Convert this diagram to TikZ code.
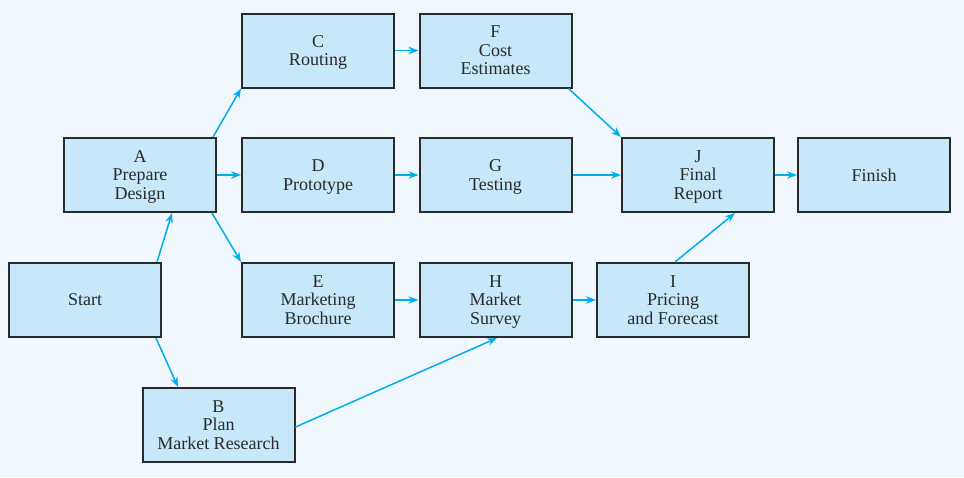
\documentclass[tikz,border=0pt]{standalone}
\usepackage{fontspec}
\setmainfont{Liberation Serif}
\usetikzlibrary{arrows.meta}
\definecolor{bgc}{HTML}{F0F7FD}
\definecolor{boxc}{HTML}{C6E8F9}
\definecolor{edgec}{HTML}{2A2A2A}
\definecolor{arrc}{HTML}{00AEEF}
\tikzset{
  task/.style={draw=edgec, line width=2pt, fill=boxc, rectangle, inner sep=0pt,
    minimum width=152pt, minimum height=74pt, align=center, text=edgec,
    text depth=0pt, font=\fontsize{18pt}{18.5pt}\selectfont},
  link/.style={draw=arrc, line width=1.5pt, -{Stealth[length=10pt,width=7.5pt]}}
}
\begin{document}
\begin{tikzpicture}[x=1pt,y=-1pt]
\fill[bgc] (0,0) rectangle (964,477);
\useasboundingbox (0,0) rectangle (964,477);
\node[task] (C) at (318,50.5) {C\\Routing};
\node[task] (F) at (495.5,50.5) {F\\Cost\\Estimates};
\node[task] (A) at (140,175) {A\\Prepare\\Design};
\node[task] (D) at (318,175) {D\\Prototype};
\node[task] (G) at (495.5,175) {G\\Testing};
\node[task] (J) at (698,175) {J\\Final\\Report};
\node[task] (Fin) at (874,175) {Finish};
\node[task] (S) at (85,300) {Start};
\node[task] (E) at (318,300) {E\\Marketing\\Brochure};
\node[task] (H) at (495.5,300) {H\\Market\\Survey};
\node[task] (I) at (673,300) {I\\Pricing\\and Forecast};
\node[task] (B) at (218.5,425) {B\\Plan\\Market Research};
\draw[link] ([xshift=-5pt]S.north east) -- ([xshift=32pt]A.south);
\draw[link] ([xshift=-6pt]S.south east) -- ([xshift=-40.5pt]B.north);
\draw[link] ([xshift=-4pt]A.north east) -- (C.south west);
\draw[link] (A.east) -- (D.west);
\draw[link] ([xshift=-5pt]A.south east) -- (E.north west);
\draw[link] (C.east) -- (F.west);
\draw[link] (D.east) -- (G.west);
\draw[link] (E.east) -- (H.west);
\draw[link] ([xshift=-4pt]F.south east) -- (J.north west);
\draw[link] (G.east) -- (J.west);
\draw[link] (H.east) -- (I.west);
\draw[link] ([xshift=2pt]I.north) -- ([xshift=37pt]J.south);
\draw[link] ([yshift=-2pt]B.east) -- ([xshift=1.5pt]H.south);
\draw[link] (J.east) -- (Fin.west);
\end{tikzpicture}
\end{document}
